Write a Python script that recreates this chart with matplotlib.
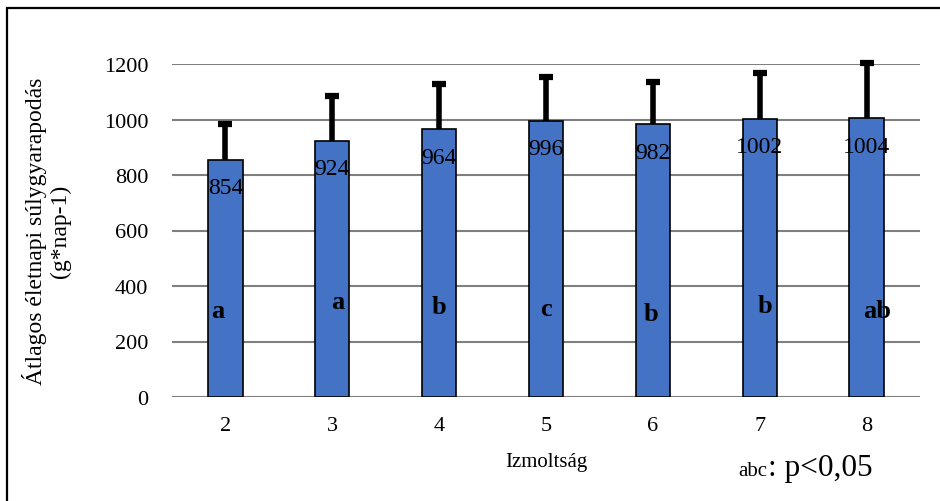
import numpy as np
import matplotlib.pyplot as plt
from matplotlib.patches import Rectangle

# data
groups = ["2", "3", "4", "5", "6", "7", "8"]
means = [854, 924, 964, 996, 982, 1002, 1004]
errors = [130, 159, 164, 157, 153, 164, 200]
letters = ["a", "a", "b", "c", "b", "b", "ab"]
letter_y = [310, 345, 325, 320, 300, 330, 312]
letter_dx = [-0.07, 0.05, 0.0, 0.0, -0.02, 0.05, 0.1]

plt.rcParams['font.family'] = ['Liberation Serif', 'DejaVu Serif']

fig = plt.figure(figsize=(9.4, 5.02), dpi=100)
ax = fig.add_axes([172 / 940, 1 - 398 / 502, 748 / 940, 333 / 502])

x = np.arange(len(groups))
ax.bar(x, means, width=0.32, color="#4472C4", edgecolor="black", linewidth=1.2, zorder=3)
# upper error bars only: stem + cap
tops = np.array(means) + np.array(errors)
ax.vlines(x, means, tops, color="black", linewidth=4, zorder=4, clip_on=False)
ax.scatter(x, tops, marker="_", s=100, linewidths=4.5, color="black", zorder=4, clip_on=False)

# value labels just under the top of each bar
for i, v in enumerate(means):
    ax.text(x[i], v - 100, str(v), ha="center", va="center", fontsize=17, zorder=5)

# significance letters
for i, s in enumerate(letters):
    ax.text(x[i] + letter_dx[i], letter_y[i], s, ha="center", va="center",
            fontsize=19, fontweight="bold", zorder=5)

ax.set_xlim(-0.5, len(groups) - 0.5)
ax.set_ylim(0, 1200)
ax.set_yticks(np.arange(0, 1201, 200))
ax.set_xticks(x)
ax.set_xticklabels(groups)
ax.tick_params(axis="both", length=0, labelsize=16)
ax.tick_params(axis="y", pad=17)
ax.tick_params(axis="x", pad=14)

ax.yaxis.grid(True, color="#7f7f7f", linewidth=1.5, zorder=0)
for sp in ax.spines.values():
    sp.set_visible(False)
ax.axhline(0, color="#d9d9d9", linewidth=1.5, zorder=1)

ax.set_ylabel("Átlagos életnapi súlygyarapodás\n(g*nap-1)", fontsize=17, labelpad=24,
              linespacing=1.15)
ax.set_xlabel("Izmoltság", fontsize=15, labelpad=12)

fig.text(738 / 940, 1 - 476 / 502, "abc", fontsize=15, va="baseline")
fig.text(768 / 940, 1 - 476 / 502, ": p<0,05", fontsize=22.5, va="baseline")

# frame around the whole chart
fig.patches.append(Rectangle((7 / 940, -0.1), 1.0, 1 - 9 / 502 + 0.1, transform=fig.transFigure,
                             fill=False, edgecolor="black", linewidth=1.6))

plt.savefig("out.png", dpi=100)
